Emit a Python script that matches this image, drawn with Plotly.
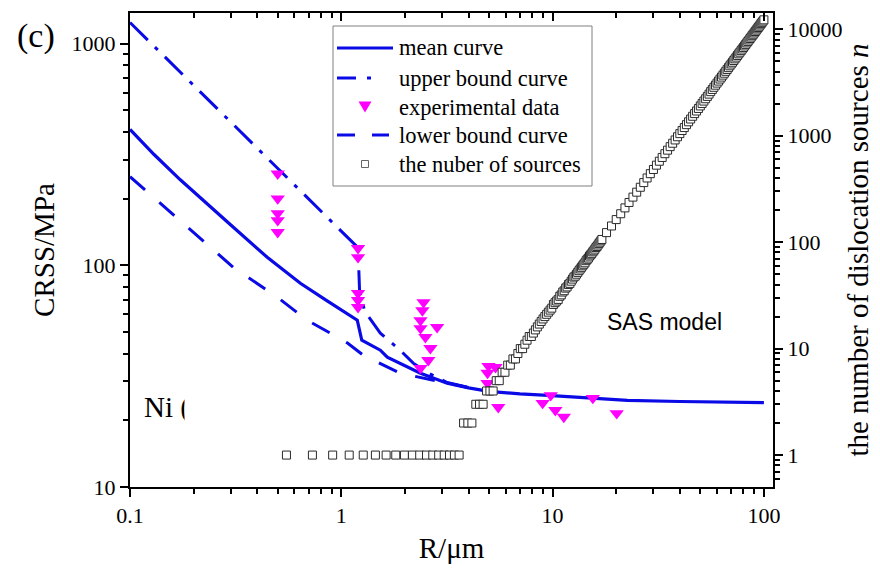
import plotly.graph_objects as go

# ---------------- data ----------------
R_mean = [0.1, 0.13, 0.173, 0.23, 0.3, 0.446, 0.592, 0.64, 0.85, 1.0, 1.19, 1.25, 1.4, 1.53,
          1.65, 2.0, 2.37, 3.17, 4.0, 5.0, 7.0, 9.5, 15, 22.6, 40, 70, 100]
CRSS_mean = [410, 316, 243, 190, 152, 108.7, 88.3, 83, 69.5, 63, 56.5, 45.9, 43.5, 41.4,
             38.5, 35.3, 32.6, 29.4, 28.0, 27.0, 26.3, 25.9, 25.1, 24.6, 24.3, 24.1, 24.0]

R_upper = [0.1, 1.2, 1.22, 1.29, 1.53, 1.9, 2.19, 2.6, 3.17, 4.0]
CRSS_upper = [1245, 120, 77, 62, 49.4, 41.4, 36.2, 32.5, 29.6, 28.1]

R_lower = [0.1, 0.215, 0.308, 0.498, 0.69, 0.92, 1.07, 1.27, 1.9, 2.73, 3.2, 4.0]
CRSS_lower = [251, 132, 98, 71.8, 56.5, 48.5, 44.6, 39.3, 32.6, 30.3, 29.4, 28.1]

R_exp = [0.5, 0.5, 0.5, 0.5, 0.5,
         1.2, 1.2, 1.2, 1.2, 1.2,
         2.45, 2.42, 2.37, 2.37, 2.5, 2.64, 2.58, 2.37, 2.84,
         4.97, 5.37, 4.92, 4.92, 5.53,
         9.8, 8.97, 10.3, 11.3, 15.5, 20.1]
CRSS_exp = [259, 200, 171.5, 159.6, 141,
            119.4, 108.7, 74.8, 69.6, 64.7,
            68.1, 62.6, 56.5, 52, 47.4, 42.3, 37.3, 34.4, 52.6,
            35.1, 34.7, 32.7, 29.4, 22.9,
            25.9, 23.9, 22.2, 20.7, 25.2, 21.5]

R_src = [0.55, 0.73, 0.91, 1.09, 1.27, 1.45, 1.63, 1.81, 1.99, 2.17, 2.35, 2.53, 2.71, 2.89,
         3.07, 3.25, 3.43, 3.61, 3.79, 3.97, 4.15, 4.33, 4.51, 4.69, 4.87, 5.05, 5.23, 5.41,
         5.59, 5.77, 5.95, 6.13, 6.31, 6.49, 6.67, 6.85, 7.03, 7.21, 7.39, 7.57, 7.75, 7.93,
         8.11, 8.29, 8.47, 8.65, 8.83, 9.01, 9.19, 9.37, 9.55, 9.73, 9.91, 10.09, 10.27, 10.45,
         10.63, 10.81, 10.99, 11.17, 11.35, 11.53, 11.71, 11.89, 12.07, 12.25, 12.43, 12.61,
         12.79, 12.97, 13.15, 13.33, 13.51, 13.69, 13.87, 14.05, 14.23, 14.41, 14.59, 14.77,
         14.95, 15.13, 15.31, 15.49, 15.67, 15.85, 16.03, 16.21, 16.39, 16.57, 16.75, 16.93,
         17.11,
         18, 19, 20, 21, 22, 23, 24, 25, 26, 27, 28, 29, 30, 31, 32, 33, 34, 35, 36, 37, 38, 39,
         40, 41, 42, 43, 44, 45, 46, 47, 48, 49, 50, 51, 52, 53, 54, 55, 56, 57, 58, 59, 60, 61,
         62, 63, 64, 65, 66, 67, 68, 69, 70, 71, 72, 73, 74, 75, 76, 77, 78, 79, 80, 81, 82, 83,
         84, 85, 86, 87, 88, 89, 90, 91, 92, 93, 94, 95, 96, 97, 98, 99, 100]
n_src = [1, 1, 1, 1, 1, 1, 1, 1, 1, 1, 1, 1, 1, 1,
         1, 1, 1, 1, 2, 2, 2, 3, 3, 3, 4, 4, 4, 5,
         5, 6, 6, 7, 7, 8, 8, 9, 10, 10, 11, 12, 13, 13,
         14, 15, 16, 17, 18, 19, 20, 21, 22, 23, 24, 26, 27, 28,
         29, 31, 32, 34, 35, 37, 38, 40, 41, 43, 45, 47,
         48, 50, 52, 54, 56, 58, 60, 62, 64, 67, 69, 71,
         74, 76, 78, 81, 83, 86, 89, 91, 94, 97, 100, 103,
         106,
         123, 142, 163, 185, 210, 236, 265, 295, 328, 363, 401, 440, 482, 529, 576, 625, 678,
         732, 790, 850, 913, 978, 1047, 1119, 1193, 1271, 1352, 1436, 1523, 1614, 1707, 1804,
         1905, 2009, 2116, 2226, 2341, 2459, 2595, 2721, 2850, 2985, 3122, 3261, 3407, 3556,
         3710, 3867, 4028, 4194, 4364, 4538, 4718, 4901, 5086, 5278, 5474, 5677, 5879, 6090,
         6304, 6523, 6747, 6975, 7208, 7447, 7689, 7936, 8191, 8448, 8712, 8979, 9249, 9528,
         9813, 10101, 10393, 10692, 11000, 11308, 11620, 11940, 12269]

x_ticks = [0.1, 1, 10, 100]
x_ticktext = ["0.1", "1", "10", "100"]
y_ticks = [10, 100, 1000]
y_ticktext = ["10", "100", "1000"]
y2_ticks = [1, 10, 100, 1000, 10000]
y2_ticktext = ["1", "10", "100", "1000", "10000"]

legend_labels = ["mean curve", "upper bound curve", "experimental data",
                 "lower bound curve", "the nuber of sources"]

# ---------------- styling / geometry ----------------
W, H = 880, 575
ML, MR, MT, MB = 130, 107, 13, 88
PW, PH = W - ML - MR, H - MT - MB
X_RANGE = [-1, 2.043]
Y_RANGE = [1, 3.138]
SERIF = "Liberation Serif"
SANS = "Liberation Sans"
BLUE = "rgb(10,10,230)"
MAG = "#ff00ff"
SQ = "#2a2a2a"


def fx(p):
    return (p - ML) / PW


def fy(p):
    return (H - MB - p) / PH


def data_x(p):
    return 10 ** (X_RANGE[0] + fx(p) * (X_RANGE[1] - X_RANGE[0]))


def data_y(p):
    return 10 ** (Y_RANGE[0] + fy(p) * (Y_RANGE[1] - Y_RANGE[0]))


minor_x = [m * 10 ** e for e in range(-1, 3) for m in range(2, 10)]
minor_y = [m * 10 ** e for e in range(1, 4) for m in range(2, 10)]
minor_y2 = [m * 10 ** e for e in range(-1, 5) for m in range(2, 10)]

fig = go.Figure()

fig.add_trace(go.Scatter(x=R_mean, y=CRSS_mean, mode="lines", name=legend_labels[0],
                         line=dict(color=BLUE, width=3.2), showlegend=False))
fig.add_trace(go.Scatter(x=R_upper, y=CRSS_upper, mode="lines", name=legend_labels[1],
                         line=dict(color=BLUE, width=3, dash="25px,10px,4px,10px"),
                         showlegend=False))
fig.add_trace(go.Scatter(x=R_lower, y=CRSS_lower, mode="lines", name=legend_labels[3],
                         line=dict(color=BLUE, width=3, dash="20px,19px"), showlegend=False))
fig.add_trace(go.Scatter(x=R_exp, y=CRSS_exp, mode="markers", name=legend_labels[2],
                         marker=dict(symbol="triangle-down", size=12.5, color=MAG,
                                     line=dict(width=0)), showlegend=False))
# "Ni (" label (as text in the plot so the white cover can cut its parenthesis)
fig.add_trace(go.Scatter(x=[data_x(144)], y=[data_y(410)], mode="text", text=["Ni ("],
                         textposition="middle right",
                         textfont=dict(family=SERIF, size=29, color="black"),
                         showlegend=False, hoverinfo="skip"))
fig.add_trace(go.Scatter(x=R_src, y=n_src, mode="markers", name=legend_labels[4],
                         yaxis="y2",
                         marker=dict(symbol="square", size=8, color="white",
                                     line=dict(color=SQ, width=1)),
                         showlegend=False))
# invisible trace to activate the mirrored top axis
fig.add_trace(go.Scatter(x=[None], y=[None], xaxis="x2", yaxis="y", showlegend=False,
                         hoverinfo="skip"))

tickfont = dict(family=SERIF, size=22, color="black")
title_font = dict(family=SERIF, size=29, color="black")
minor_out = lambda vals: dict(tickvals=vals, ticks="outside", ticklen=5, tickwidth=1.5,
                              tickcolor="black", showgrid=False)
minor_in = lambda vals: dict(tickvals=vals, ticks="inside", ticklen=5, tickwidth=1.5,
                             tickcolor="black", showgrid=False)

common = dict(type="log", showgrid=False, zeroline=False, showline=True, linewidth=2,
              linecolor="black", tickwidth=1.8, tickcolor="black", ticklen=8,
              automargin=False)

fig.update_layout(
    width=W, height=H,
    margin=dict(l=ML, r=MR, t=MT, b=MB, pad=0),
    paper_bgcolor="white", plot_bgcolor="white",
    showlegend=False,
    xaxis=dict(**common, range=X_RANGE, tickmode="array", tickvals=x_ticks,
               ticktext=x_ticktext, ticks="outside", tickfont=tickfont,
               minor=minor_out(minor_x),
               title=dict(text="R/μm", font=title_font, standoff=10)),
    xaxis2=dict(**common, range=X_RANGE, overlaying="x", side="top", anchor="y",
                tickmode="array", tickvals=x_ticks, ticks="inside",
                showticklabels=False, minor=minor_in(minor_x)),
    yaxis=dict(**common, range=Y_RANGE, tickmode="array", tickvals=y_ticks,
               ticktext=y_ticktext, ticks="outside", tickfont=tickfont,
               minor=minor_out(minor_y),
               title=dict(text="CRSS/MPa", font=title_font, standoff=8)),
    yaxis2=dict(**common, range=[-0.30, 4.153], overlaying="y", side="right", anchor="x",
                tickmode="array", tickvals=y2_ticks, ticktext=y2_ticktext,
                ticks="outside", tickfont=tickfont, minor=minor_out(minor_y2),
                title=dict(text="the number of dislocation sources <i>n</i>",
                           font=title_font, standoff=6)),
)

# ---------------- manual legend ----------------
shapes = []
shapes.append(dict(type="rect", xref="paper", yref="paper", x0=fx(333), x1=fx(592),
                   y0=fy(186), y1=fy(26), line=dict(color="#808080", width=1),
                   fillcolor="white", layer="above"))
rows = [48, 78, 107, 135, 164]
# mean: solid
shapes.append(dict(type="line", xref="paper", yref="paper", x0=fx(337), x1=fx(393),
                   y0=fy(rows[0]), y1=fy(rows[0]), line=dict(color=BLUE, width=3),
                   layer="above"))
# upper: dash + dot
shapes.append(dict(type="line", xref="paper", yref="paper", x0=fx(337), x1=fx(356),
                   y0=fy(rows[1]), y1=fy(rows[1]), line=dict(color=BLUE, width=3),
                   layer="above"))
shapes.append(dict(type="line", xref="paper", yref="paper", x0=fx(367), x1=fx(371),
                   y0=fy(rows[1]), y1=fy(rows[1]), line=dict(color=BLUE, width=3),
                   layer="above"))
# lower: two dashes
shapes.append(dict(type="line", xref="paper", yref="paper", x0=fx(337), x1=fx(355),
                   y0=fy(rows[3]), y1=fy(rows[3]), line=dict(color=BLUE, width=3),
                   layer="above"))
shapes.append(dict(type="line", xref="paper", yref="paper", x0=fx(372), x1=fx(389),
                   y0=fy(rows[3]), y1=fy(rows[3]), line=dict(color=BLUE, width=3),
                   layer="above"))
# triangle
tx, ty = 365, rows[2]
shapes.append(dict(type="path", xref="paper", yref="paper",
                   path=f"M {fx(tx-6.5)},{fy(ty-5.5)} L {fx(tx+6.5)},{fy(ty-5.5)} "
                        f"L {fx(tx)},{fy(ty+5.5)} Z",
                   fillcolor=MAG, line=dict(width=0), layer="above"))
# square
sx, sy = 365, rows[4]
shapes.append(dict(type="rect", xref="paper", yref="paper", x0=fx(sx-3.5), x1=fx(sx+3.5),
                   y0=fy(sy+3.5), y1=fy(sy-3.5), line=dict(color="#666666", width=1),
                   fillcolor="white", layer="above"))
# white cover that cuts the "Ni (" label
shapes.append(dict(type="rect", xref="paper", yref="paper", x0=fx(184.5), x1=fx(240),
                   y0=fy(430), y1=fy(392), line=dict(width=0), fillcolor="white",
                   layer="above"))

annotations = []
for r, lab in zip(rows, legend_labels):
    annotations.append(dict(xref="paper", yref="paper", x=fx(397), y=fy(r), text=lab,
                            showarrow=False, xanchor="left", yanchor="middle",
                            font=dict(family=SERIF, size=22.5, color="black")))
annotations.append(dict(xref="paper", yref="paper", x=fx(36), y=fy(36), text="(c)",
                        showarrow=False, xanchor="center", yanchor="middle",
                        font=dict(family=SERIF, size=34, color="black")))
annotations.append(dict(xref="paper", yref="paper", x=fx(605), y=fy(322), text="SAS model",
                        showarrow=False, xanchor="left", yanchor="middle",
                        font=dict(family=SANS, size=23, color="black")))

fig.update_layout(shapes=shapes, annotations=annotations)

fig.write_html("out.html")
